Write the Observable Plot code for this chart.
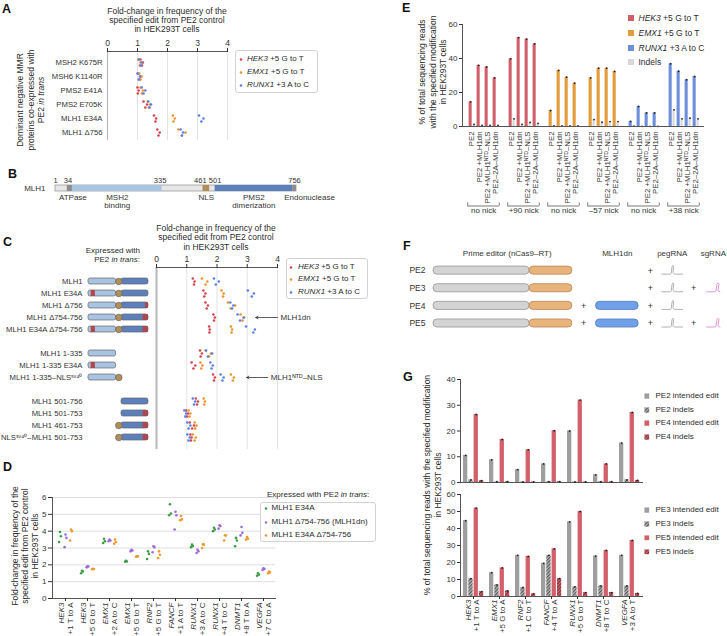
<!DOCTYPE html>
<html>
<head>
<meta charset="utf-8">
<title>MLH1dn prime editing figure</title>
<script src="https://cdn.jsdelivr.net/npm/d3@7"></script>
<script src="https://cdn.jsdelivr.net/npm/@observablehq/plot@0.6"></script>
<style>
  html, body { margin: 0; padding: 0; background: #fff; }
  #fig { position: relative; width: 727px; height: 636px; overflow: hidden; background: #fff;
         font-family: "Liberation Sans", Arial, Helvetica, sans-serif; color: #2b2b2b; }
  .pl { position: absolute; font-weight: bold; font-size: 12.5px; line-height: 13px; color: #111; }
  .tx { position: absolute; white-space: nowrap; font-size: 8.5px; }
  .rot { position: absolute; white-space: nowrap; text-align: center; font-size: 8.5px; line-height: 10.5px;
         transform: translate(-50%, -50%) rotate(-90deg); }
  .lg { position: absolute; border: 1px solid #d2d2d2; border-radius: 3px; background: #fff; box-sizing: border-box; }
  .li { position: absolute; white-space: nowrap; font-size: 8px; line-height: 10px; transform: translateY(-50%); }
  .sw { position: absolute; transform: translate(-50%, -50%); line-height: 0; }
</style>
</head>
<body>
<svg width="0" height="0" style="position:absolute;left:0;top:0">
  <defs>
    <pattern id="hatchGray" patternUnits="userSpaceOnUse" width="2.4" height="2.4" patternTransform="rotate(45)">
      <rect width="2.4" height="2.4" fill="#b5b5b5"/>
      <rect width="1.1" height="2.4" fill="#555"/>
    </pattern>
    <pattern id="hatchRed" patternUnits="userSpaceOnUse" width="2.4" height="2.4" patternTransform="rotate(45)">
      <rect width="2.4" height="2.4" fill="#d06a73"/>
      <rect width="1.1" height="2.4" fill="#7b2a34"/>
    </pattern>
  </defs>
</svg>
<div id="fig"></div>
<script>
// ======================= DATA =======================
// Shared sites for panels A, C, E
const sites3 = ["HEK3", "EMX1", "RUNX1"];
const sites3Edits = ["+5 G to T", "+5 G to T", "+3 A to C"];

// Panel A: fold-change, 3 replicates per site
const aRows = ["MSH2 K675R", "MSH6 K1140R", "PMS2 E41A", "PMS2 E705K", "MLH1 E34A", "MLH1 Δ756"];
const aHEK3  = [[1.10,1.15,1.18],[1.02,1.06,1.10],[1.00,1.01,1.04],[1.20,1.26,1.32],[1.55,1.60,1.62],[1.66,1.70,1.74]];
const aEMX1  = [[1.04,1.08,1.10],[1.06,1.10,1.14],[1.10,1.15,1.18],[1.34,1.38,1.42],[2.18,2.20,2.24],[2.36,2.48,2.60]];
const aRUNX1 = [[1.04,1.10,1.14],[1.00,1.04,1.08],[1.14,1.20,1.26],[1.36,1.40,1.45],[3.05,3.13,3.20],[2.44,2.48,2.52]];

// Panel B: MLH1 domains
const bTicks = [1, 34, 335, 461, 501, 756];
const bDomains = [
  {name: "ATPase", start: 38, end: 54},
  {name: "MSH2\nbinding", start: 54, end: 335},
  {name: "NLS", start: 463, end: 484},
  {name: "PMS2\ndimerization", start: 501, end: 744},
  {name: "Endonuclease", start: 744, end: 756}
];

// Panel C
const cRows = ["MLH1", "MLH1 E34A", "MLH1 Δ756", "MLH1 Δ754-756", "MLH1 E34A Δ754-756",
               "MLH1 1-335", "MLH1 1-335 E34A", "MLH1 1-335–NLSˢᵛ⁴⁰",
               "MLH1 501-756", "MLH1 501-753", "MLH1 461-753", "NLSˢᵛ⁴⁰–MLH1 501-753"];
const cHasN   = [1,1,1,1,1,1,1,1,0,0,0,0];
const cHasNLS = [1,1,1,1,1,0,0,1,0,0,1,1];
const cHasC   = [1,1,1,1,1,0,0,0,1,1,1,1];
const cMutN   = [0,1,0,0,1,0,1,0,0,0,0,0];   // E34A
const cTruncC = [0,0,1,3,3,0,0,0,0,3,3,3];   // residues removed at C-terminus
const cHEK3  = [[1.20,1.24,1.26],[1.55,1.58,1.62],[1.62,1.66,1.70],[1.88,1.90,1.93],[1.74,1.75,1.76],[1.44,1.46,1.50],[1.16,1.22,1.28],[1.87,1.90,1.93],[1.30,1.34,1.37],[0.98,1.01,1.04],[1.10,1.18,1.24],[1.12,1.14,1.16]];
const cEMX1  = [[1.50,1.62,1.68],[2.15,2.20,2.22],[2.36,2.45,2.60],[2.78,2.84,2.90],[2.46,2.48,2.50],[1.62,1.74,1.80],[1.45,1.48,1.52],[2.46,2.52,2.56],[1.56,1.58,1.60],[1.06,1.09,1.12],[1.26,1.28,1.32],[1.20,1.26,1.30]];
const cRUNX1 = [[1.90,1.96,2.06],[3.02,3.15,3.22],[2.44,2.50,2.54],[2.68,2.76,2.88],[2.96,3.20,3.25],[1.64,1.70,1.84],[1.78,1.82,1.86],[2.12,2.18,2.22],[1.20,1.24,1.28],[0.92,0.95,0.98],[1.02,1.06,1.12],[1.02,1.06,1.10]];
const cNotes = [
  {row: "MLH1 Δ754-756", label: "MLH1dn", from: 4.0, to: 3.28},
  {row: "MLH1 1-335–NLSˢᵛ⁴⁰", label: "MLH1ᴺᵀᴰ–NLS", from: 3.68, to: 2.98}
];

// Panel D
const dSiteGenes = ["HEK3","HEK3","EMX1","EMX1","RNF2","FANCF","RUNX1","RUNX1","DNMT1","VEGFA"];
const dSiteEdits = ["+1 T to A","+5 G to T","+2 A to C","+5 G to T","+5 G to T","+1 A to T","+3 A to C","+4 T to C","+8 T to A","+7 C to A"];
const dConstructs = ["MLH1 E34A", "MLH1 Δ754-756 (MLH1dn)", "MLH1 E34A Δ754-756"];
const dE34A   = [[3.35,3.70,3.95],[1.50,1.60,1.65],[3.30,3.40,3.55],[2.18,2.20,2.24],[2.35,2.65,2.80],[4.95,5.05,5.60],[3.05,3.12,3.20],[4.00,4.10,4.20],[3.10,3.45,3.60],[1.35,1.42,1.50]];
const dDN     = [[3.05,3.60,3.80],[1.85,1.90,1.92],[3.40,3.45,3.50],[2.80,2.85,2.90],[2.75,3.05,3.10],[4.10,4.95,5.15],[2.70,2.80,2.90],[4.15,4.30,4.35],[3.75,3.90,4.25],[1.70,1.75,1.80]];
const dE34ADN = [[3.45,4.00,4.10],[1.74,1.75,1.76],[3.25,3.35,3.50],[2.48,2.50,2.52],[2.40,2.60,2.80],[4.65,4.70,4.90],[3.00,3.20,3.22],[3.45,3.74,3.76],[3.50,3.55,3.65],[1.50,1.55,1.60]];

// Panel E
const eSites = ["HEK3","HEK3","EMX1","EMX1","RUNX1","RUNX1"];
const eNicks = ["no nick","+90 nick","no nick","–57 nick","no nick","+38 nick"];
const eConds = ["PE2","PE2 +MLH1dn","PE2 +MLH1ᴺᵀᴰ–NLS","PE2–2A–MLH1dn"];
const eEdit  = [[14.5,36.0,35.0,28.6],[39.8,52.3,51.4,48.6],[9.4,33.0,29.0,25.5],[28.6,34.3,34.3,32.4],[3.0,11.8,8.0,8.0],[36.9,32.5,27.5,29.4]];
const eIndel = [[1.2,0.6,0.6,0.6],[4.5,1.2,2.4,1.8],[0.4,0.3,0.3,0.3],[4.1,2.5,2.9,2.9],[0.2,0.1,0.1,0.1],[9.8,4.5,4.9,4.5]];

// Panel F
const fRows = ["PE2","PE3","PE4","PE5"];
const fHasMLH1dn = [0,0,1,1];
const fHasSgRNA  = [0,1,0,1];
const fHeaders = ["Prime editor (nCas9–RT)","MLH1dn","pegRNA","sgRNA"];

// Panel G
const gGenes = ["HEK3","EMX1","RNF2","FANCF","RUNX1","DNMT1","VEGFA"];
const gEdits = ["+1 T to A","+5 G to A","+1 C to T","+4 T to A","+5 G to T","+8 T to C","+3 A to T"];
const gTopNames = ["PE2 intended edit","PE2 indels","PE4 intended edit","PE4 indels"];
const gPE2       = [10.5, 8.8, 5.0, 7.2, 20.0, 3.0, 15.3];
const gPE2Indels = [1.0, 0.3, 0.2, 0.3, 0.2, 0.3, 1.0];
const gPE4       = [26.4, 16.7, 12.7, 20.1, 32.0, 7.2, 27.2];
const gPE4Indels = [0.7, 0.3, 0.2, 0.3, 0.2, 0.3, 0.8];
const gBottomNames = ["PE3 intended edit","PE3 indels","PE5 intended edit","PE5 indels"];
const gPE3       = [44.6, 14.0, 24.2, 19.5, 43.9, 23.8, 24.2];
const gPE3Indels = [10.5, 6.8, 5.3, 24.2, 5.7, 6.2, 6.2];
const gPE5       = [52.0, 16.8, 23.6, 28.0, 50.0, 27.1, 33.0];
const gPE5Indels = [2.9, 3.3, 1.6, 10.5, 2.3, 2.3, 1.8];

// ======================= STYLE =======================
const W = 727, H = 636;
const FONT = '"Liberation Sans", Arial, Helvetica, sans-serif';
const siteDotColors = ["#d8424e", "#f0922a", "#5a80e6"];
const siteBarColors = ["#cf5f69", "#e39b3b", "#6d8ed8"];
const indelColor = "#d7d7d7";
const dColors = ["#3f9c45", "#9b6bd6", "#f2972e"];
const gFills = ["#9e9e9e", "url(#hatchGray)", "#d2606a", "url(#hatchRed)"];
const axisColor = "#555";
const intFmt = d => String(d);

const fig = document.getElementById("fig");
function region(x0, x1, y0, y1) {
  return { width: W, height: H, marginLeft: x0, marginRight: W - x1, marginTop: y0, marginBottom: H - y1,
           style: { fontFamily: FONT, fontSize: "8px", color: "#333", background: "transparent", overflow: "visible" } };
}
function put(node) {
  node.style.position = "absolute"; node.style.left = "0px"; node.style.top = "0px";
  node.style.background = "transparent"; node.style.overflow = "visible";
  fig.appendChild(node);
}
function el(cls, html, css) {
  const d = document.createElement("div");
  d.className = cls; d.innerHTML = html; d.style.cssText += css; fig.appendChild(d); return d;
}

// ======================= PANEL A =======================
const repDy = [-3, 3, 0];
const aData = [];
aRows.forEach((row, i) => sites3.forEach((site, k) =>
  [aHEK3, aEMX1, aRUNX1][k][i].forEach((value, rep) => aData.push({row, site, rep, value}))));

put(Plot.plot({
  ...region(107, 227, 51, 140),
  x: {domain: [0, 4]},
  y: {type: "point", domain: aRows, range: [61, 132], padding: 0},
  color: {domain: sites3, range: siteDotColors},
  marks: [
    Plot.ruleX([1, 2, 3, 4], {stroke: "#e3e3e3"}),
    Plot.ruleX([0], {stroke: "#b8b8b8", strokeWidth: 1.2}),
    Plot.frame({anchor: "top", stroke: axisColor}),
    Plot.axisX({anchor: "top", ticks: [0,1,2,3,4], tickFormat: intFmt, tickSize: 4, tickPadding: 2, fontSize: 8.5, label: null}),
    Plot.axisY({anchor: "left", tickSize: 0, tickPadding: 5, fontSize: 7.7, label: null}),
    ...repDy.map((dy, r) => Plot.dot(aData.filter(d => d.rep === r), {x: "value", y: "row", fill: "site", r: 1.3, dy}))
  ]
}));

// ======================= PANEL B =======================
const bColors = ["#8d8d8d", "#a9c4e3", "#b08e58", "#5c80bb", "#8d8d8d"];
const bLabelDx = [3, 0, 0, 0, 15];
const bTickDx = [0, 2, -2, -2, 0, -2];
put(Plot.plot({
  ...region(55, 296, 185, 191),
  x: {domain: [1, 756], axis: null},
  marks: [
    Plot.rect([{start: 1, end: 756}], {x1: "start", x2: "end", fill: "#e7e7e7", stroke: "#9a9a9a", strokeWidth: 0.8}),
    Plot.rect(bDomains, {x1: "start", x2: "end", fill: (d, i) => bColors[i]}),
    ...bTicks.map((t, i) => Plot.text([t], {x: d => d, text: d => String(d), frameAnchor: "top", lineAnchor: "bottom", dy: -3, dx: bTickDx[i], fontSize: 7.5})),
    ...bDomains.map((d, i) => Plot.text([d], {x: v => (v.start + v.end) / 2, text: "name", frameAnchor: "bottom", lineAnchor: "top", dy: 3, dx: bLabelDx[i], fontSize: 8})),
    Plot.text(["MLH1"], {frameAnchor: "left", textAnchor: "end", dx: -10, fontSize: 8})
  ]
}));

// ======================= PANEL C =======================
const cYDomain = [...cRows.slice(0, 5), " ", ...cRows.slice(5, 8), "  ", ...cRows.slice(8)];
const cStep = (441 - 276) / 13;
const cY = {type: "band", domain: cYDomain, range: [276 - cStep / 2, 441 + cStep / 2], paddingInner: 0.5, paddingOuter: 0.25};
const cParts = {n: [0, 46], nls: 50.5, c: [55, 100], mutN: [4.5, 11.5]};
const cRedWidth = {1: 5, 3: 9};
const dia = cRows.map((row, i) => ({row, i}));
const nCol = "#a9c4e3", cCol = "#5c80bb", redCol = "#b5444d", nlsCol = "#b08e58", outline = "#666";

put(Plot.plot({
  ...region(88, 148, 267, 449),
  x: {domain: [0, 100], axis: null},
  y: cY,
  marks: [
    Plot.axisY({tickSize: 0, tickPadding: 6, fontSize: 7.7, label: null}),
    Plot.barX(dia.filter(d => cHasN[d.i]), {x1: cParts.n[0], x2: cParts.n[1], y: "row", fill: nCol, rx: 2}),
    Plot.barX(dia.filter(d => cMutN[d.i]), {x1: cParts.mutN[0], x2: cParts.mutN[1], y: "row", fill: redCol}),
    Plot.barX(dia.filter(d => cHasN[d.i]), {x1: cParts.n[0], x2: cParts.n[1], y: "row", fill: "none", stroke: outline, strokeWidth: 0.7, rx: 2}),
    Plot.barX(dia.filter(d => cHasC[d.i]), {x1: cParts.c[0], x2: cParts.c[1], y: "row", fill: cCol, rx: 2}),
    Plot.barX(dia.filter(d => cTruncC[d.i]), {x1: d => cParts.c[1] - cRedWidth[cTruncC[d.i]], x2: cParts.c[1], y: "row", fill: redCol, rx: 1}),
    Plot.barX(dia.filter(d => cHasC[d.i]), {x1: cParts.c[0], x2: cParts.c[1], y: "row", fill: "none", stroke: outline, strokeWidth: 0.7, rx: 2}),
    Plot.dot(dia.filter(d => cHasNLS[d.i]), {x: cParts.nls, y: "row", r: 3.3, fill: nlsCol, stroke: outline, strokeWidth: 0.7})
  ]
}));

const cData = [];
cRows.forEach((row, i) => sites3.forEach((site, k) =>
  [cHEK3, cEMX1, cRUNX1][k][i].forEach((value, rep) => cData.push({row, site, rep, value}))));

put(Plot.plot({
  ...region(156, 277, 267, 449),
  x: {domain: [0, 4]},
  y: {...cY, axis: null},
  color: {domain: sites3, range: siteDotColors},
  marks: [
    Plot.ruleX([1, 2, 3, 4], {stroke: "#e3e3e3"}),
    Plot.ruleX([0], {stroke: "#b8b8b8", strokeWidth: 2}),
    Plot.frame({anchor: "top", stroke: axisColor}),
    Plot.axisX({anchor: "top", ticks: [0,1,2,3,4], tickFormat: intFmt, tickSize: 4, tickPadding: 2, fontSize: 8.5, label: null}),
    ...repDy.map((dy, r) => Plot.dot(cData.filter(d => d.rep === r), {x: "value", y: "row", fill: "site", r: 1.3, dy})),
    Plot.arrow(cNotes, {x1: "from", x2: "to", y: "row", stroke: "#333", strokeWidth: 0.8, headLength: 5}),
    Plot.text(cNotes, {x: "from", y: "row", text: "label", textAnchor: "start", dx: 3, fontSize: 8})
  ]
}));

// ======================= PANEL D =======================
const dKeys = dSiteGenes.map((g, i) => g + " " + dSiteEdits[i]);
const dSeriesDx = [-5.5, 0, 5.5];
const dRepDx = [-0.9, 0.9, 0];
const dMarks = [];
[dE34A, dDN, dE34ADN].forEach((arr, s) => [0, 1, 2].forEach(r =>
  dMarks.push(Plot.dot(dKeys.map((key, i) => ({key, value: arr[i][r]})),
    {x: "key", y: "value", r: 1.3, fill: dColors[s], dx: dSeriesDx[s] + dRepDx[r]}))));

put(Plot.plot({
  ...region(52, 275, 497, 598),
  x: {type: "band", domain: dKeys, paddingInner: 0, paddingOuter: 0},
  y: {domain: [0, 6]},
  marks: [
    Plot.ruleY([1, 2, 3, 4, 5, 6], {stroke: "#dedede"}),
    Plot.frame({anchor: "left", stroke: axisColor}),
    Plot.frame({anchor: "bottom", stroke: axisColor}),
    Plot.axisY({ticks: [0,1,2,3,4,5,6], tickFormat: intFmt, tickSize: 4, tickPadding: 2, fontSize: 8, label: null}),
    Plot.axisX({tickSize: 3, tickFormat: () => "", label: null}),
    ...dMarks,
    Plot.text(dKeys, {x: d => d, text: (d, i) => dSiteGenes[i], rotate: -90, textAnchor: "end", lineAnchor: "middle",
      frameAnchor: "bottom", dx: -4.5, dy: 4, fontStyle: "italic", fontSize: 8}),
    Plot.text(dKeys, {x: d => d, text: (d, i) => dSiteEdits[i], rotate: -90, textAnchor: "end", lineAnchor: "middle",
      frameAnchor: "bottom", dx: 4.5, dy: 4, fontSize: 8})
  ]
}));

// ======================= PANEL E =======================
const eKeys = [];
const eData = [];
eSites.forEach((site, g) => {
  eConds.forEach((cond, c) => {
    const key = `${g}|${cond}`;
    eKeys.push(key);
    eData.push({key, site, cond, edit: eEdit[g][c], indel: eIndel[g][c]});
  });
  if (g < eSites.length - 1) eKeys.push(`${g}|`);
});
const eGroups = eSites.map((site, g) => ({first: `${g}|${eConds[0]}`, second: `${g}|${eConds[1]}`, last: `${g}|${eConds[3]}`, nick: eNicks[g]}));
const eBw = (703 - 462) / eKeys.length;

put(Plot.plot({
  ...region(462, 703, 24, 126),
  x: {type: "band", domain: eKeys, paddingInner: 0, paddingOuter: 0},
  y: {domain: [0, 60]},
  color: {domain: sites3, range: siteBarColors},
  marks: [
    Plot.barY(eData, {x: "key", y: "edit", fill: "site", insetLeft: 1.6, insetRight: eBw - 5.0}),
    Plot.barY(eData, {x: "key", y: "indel", fill: indelColor, insetLeft: 5.5, insetRight: eBw - 7.9}),
    Plot.dot(eData, {x: "key", y: "edit", r: 0.9, fill: "#222", dx: 3.3 - eBw / 2}),
    Plot.dot(eData, {x: "key", y: "indel", r: 0.9, fill: "#222", dx: 6.7 - eBw / 2}),
    Plot.frame({anchor: "left", stroke: axisColor}),
    Plot.frame({anchor: "bottom", stroke: axisColor}),
    Plot.axisY({ticks: [0, 20, 40, 60], tickFormat: intFmt, tickSize: 3, tickPadding: 2, fontSize: 8, label: null}),
    Plot.axisX({ticks: eData.map(d => d.key), tickFormat: k => k.split("|")[1], tickRotate: -90, tickSize: 0, tickPadding: 5, fontSize: 7.8, label: null}),
    Plot.ruleY(eGroups, {x1: "first", x2: "last", y: 0, dy: 79.5, stroke: "#555", strokeWidth: 0.8}),
    Plot.ruleX(eGroups, {x: "first", dx: -eBw / 2 + 0.4, insetTop: 99, dy: 79.5, stroke: "#555", strokeWidth: 0.8}),
    Plot.ruleX(eGroups, {x: "last", dx: eBw / 2 - 0.4, insetTop: 99, dy: 79.5, stroke: "#555", strokeWidth: 0.8}),
    Plot.text(eGroups, {x: "second", text: "nick", frameAnchor: "bottom", dx: eBw / 2, dy: 86.5, fontSize: 8})
  ]
}));

// ======================= PANEL F =======================
const fL = {cas9: [0, 33.5], rt: [33.5, 48.4], plus1: 52.3, dn: [56.6, 71.5], plus2: 75.6, peg: [79.6, 86.8], plus3: 90.6, sg: [95.2, 99.8]};
const fHeaderX = [(fL.cas9[0] + fL.rt[1]) / 2 + 1.5, (fL.dn[0] + fL.dn[1]) / 2, (fL.peg[0] + fL.peg[1]) / 2, (fL.sg[0] + fL.sg[1]) / 2];
const fHalf = 0.23;
const pegShape = [[0,0],[0.4,0],[0.45,0.1],[0.49,0.85],[0.53,1],[0.57,0.85],[0.53,0.2],[0.6,0],[1,0]];
const sgShape  = [[0,0],[0.6,0],[0.7,0.08],[0.78,0.85],[0.86,1],[0.93,0.85],[0.85,0.15],[1,0]];
const fData = fRows.map((row, i) => ({row, i, dn: fHasMLH1dn[i], sg: fHasSgRNA[i]}));
const glyph = (shape, span, rows) => rows.flatMap(d => shape.map(([u, v]) => ({i: d.i, x: span[0] + u * (span[1] - span[0]), y: d.i + 0.2 - v * 0.5})));
const pegPts = glyph(pegShape, fL.peg, fData);
const sgPts = glyph(sgShape, fL.sg, fData.filter(d => d.sg));

put(Plot.plot({
  ...region(433, 720, 252.5, 323),
  x: {domain: [0, 100], axis: null},
  y: {domain: [-1, 3], reverse: true, axis: null},
  marks: [
    Plot.text(fHeaders, {x: (d, i) => fHeaderX[i], y: -1, text: d => d, fontSize: 8}),
    Plot.text(fData, {x: 0, y: "i", text: "row", textAnchor: "end", dx: -8, fontSize: 8.5}),
    Plot.rect(fData, {x1: fL.cas9[0], x2: fL.cas9[1], y1: d => d.i - fHalf, y2: d => d.i + fHalf, fill: "#d4d4d4", stroke: "#8c8c8c", strokeWidth: 0.7, rx: 4}),
    Plot.rect(fData, {x1: fL.rt[0], x2: fL.rt[1], y1: d => d.i - fHalf, y2: d => d.i + fHalf, fill: "#e9b47c", stroke: "#b07d48", strokeWidth: 0.7, rx: 4}),
    Plot.text(fData.filter(d => d.dn), {x: fL.plus1, y: "i", text: () => "+", fontSize: 9}),
    Plot.rect(fData.filter(d => d.dn), {x1: fL.dn[0], x2: fL.dn[1], y1: d => d.i - fHalf, y2: d => d.i + fHalf, fill: "#6fa0e8", stroke: "#4a74bd", strokeWidth: 0.7, rx: 4}),
    Plot.text(fData, {x: fL.plus2, y: "i", text: () => "+", fontSize: 9}),
    Plot.line(pegPts, {x: "x", y: "y", z: "i", stroke: "#a8a8a8", strokeWidth: 0.9}),
    Plot.text(fData.filter(d => d.sg), {x: fL.plus3, y: "i", text: () => "+", fontSize: 9}),
    Plot.line(sgPts, {x: "x", y: "y", z: "i", stroke: "#d88bd0", strokeWidth: 0.9})
  ]
}));

// ======================= PANEL G =======================
const gBw = (642 - 460) / gGenes.length;
const gOffsets = [3, 8.3, 13.6, 18.9];
const gBarW = 4.3;
function gPanel(y0, y1, yMax, yTicks, series, withLabels) {
  const marks = [
    Plot.frame({anchor: "left", stroke: axisColor}),
    Plot.frame({anchor: "bottom", stroke: axisColor}),
    Plot.axisY({ticks: yTicks, tickFormat: intFmt, tickSize: 3, tickPadding: 2, fontSize: 8, label: null})
  ];
  series.forEach((vals, k) => {
    const data = gGenes.map((gene, i) => ({gene, value: vals[i]}));
    marks.push(Plot.barY(data, {x: "gene", y: "value", fill: gFills[k], insetLeft: gOffsets[k], insetRight: gBw - gOffsets[k] - gBarW}));
    marks.push(Plot.dot(data, {x: "gene", y: "value", r: 0.9, fill: "#222", dx: gOffsets[k] + gBarW / 2 - gBw / 2}));
  });
  if (withLabels) {
    marks.push(Plot.axisX({tickSize: 3, tickFormat: () => "", label: null}));
    marks.push(Plot.text(gGenes, {x: d => d, text: d => d, rotate: -90, textAnchor: "end", lineAnchor: "middle",
      frameAnchor: "bottom", dx: -5.5, dy: 3, fontStyle: "italic", fontSize: 8}));
    marks.push(Plot.text(gGenes, {x: d => d, text: (d, i) => gEdits[i], rotate: -90, textAnchor: "end", lineAnchor: "middle",
      frameAnchor: "bottom", dx: 3, dy: 3, fontSize: 8}));
  }
  const xs = {type: "band", domain: gGenes, paddingInner: 0, paddingOuter: 0};
  if (!withLabels) xs.axis = null;
  return Plot.plot({...region(460, 642, y0, y1), x: xs, y: {domain: [0, yMax]}, marks});
}
put(gPanel(379, 482, 40, [0, 10, 20, 30, 40], [gPE2, gPE2Indels, gPE4, gPE4Indels], false));
put(gPanel(494, 596, 60, [0, 10, 20, 30, 40, 50, 60], [gPE3, gPE3Indels, gPE5, gPE5Indels], true));

// ======================= TEXT & LEGENDS =======================
[["A", 2, 3], ["B", 8, 168], ["C", 3, 236], ["D", 3, 461], ["E", 402, 2], ["F", 403, 240], ["G", 403, 371]]
  .forEach(([t, x, y]) => el("pl", t, `left:${x}px;top:${y}px`));

const fcTitle = "Fold-change in frequency of the<br>specified edit from PE2 control<br>in HEK293T cells";
el("tx", fcTitle, "left:167px;top:7px;transform:translateX(-50%);text-align:center;line-height:9.2px");
el("tx", fcTitle, "left:216px;top:223.5px;transform:translateX(-50%);text-align:center;line-height:9.7px");
el("tx", "Expressed with<br>PE2 <i>in trans</i>:", "right:587px;top:246px;text-align:right;line-height:9.3px;font-size:8px");

el("rot", "Dominant negative MMR<br>proteins co-expressed with<br>PE2 <i>in trans</i>", "left:31px;top:100px");
el("rot", "Fold-change in frequency of the<br>specified edit from PE2 control<br>in HEK293T cells", "left:25px;top:546px;line-height:10px");
el("rot", "% of total sequencing reads<br>with the specified modification<br>in HEK293T cells", "left:432.5px;top:71.5px");
el("rot", "% of total sequencing reads with the specified modification<br>in HEK293T cells", "left:432.5px;top:485px;line-height:11px");

function legend(box, ys, swX, txX, swatches, labels, fontSize) {
  if (box) el("lg", "", `left:${box[0]}px;top:${box[1]}px;width:${box[2] - box[0]}px;height:${box[3] - box[1]}px`);
  ys.forEach((y, i) => {
    el("sw", swatches[i], `left:${swX}px;top:${y}px`);
    el("li", labels[i], `left:${txX}px;top:${y}px;font-size:${fontSize}px`);
  });
}
const dotSw = c => `<svg width="4" height="4"><circle cx="2" cy="2" r="1.3" fill="${c}"/></svg>`;
const sqSw = (c, s = 6) => `<svg width="${s}" height="${s}"><rect width="${s}" height="${s}" fill="${c}"/></svg>`;
const siteLabels = sites3.map((s, i) => `<i>${s}</i> ${sites3Edits[i]}`);

legend([235, 50, 318, 93], [59.3, 71.7, 85], 241, 247, siteDotColors.map(dotSw), siteLabels, 8);
legend([286, 258, 368, 299], [266.7, 279, 292.3], 291, 298, siteDotColors.map(dotSw), siteLabels, 8);
el("li", "Expressed with PE2 <i>in trans</i>:", "left:267px;top:495px;font-size:8px");
legend([260, 502, 376, 542], [508.3, 521.7, 535], 265.5, 271.5, dColors.map(dotSw), dConstructs, 8);
legend(null, [18.3, 33.3, 47.7, 61.7], 631, 638.5, [...siteBarColors, indelColor].map(c => sqSw(c)), [...siteLabels, "Indels"], 8.5);
legend(null, [396, 410, 423.3, 437.3], 646.5, 655.5, gFills.map(c => sqSw(c, 5.5)), gTopNames, 8);
legend(null, [510, 524.3, 537.7, 551.7], 646.5, 655.5, gFills.map(c => sqSw(c, 5.5)), gBottomNames, 8);
</script>
</body>
</html>
